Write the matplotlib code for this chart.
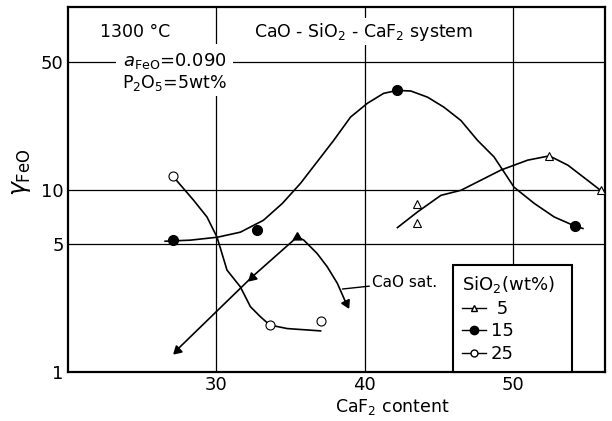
import numpy as np
import matplotlib
matplotlib.use("Agg")
import matplotlib.pyplot as plt
from matplotlib.lines import Line2D

# CaF2 content vs gamma_FeO
# SiO2 = 5 wt% (open triangles)
x5 = [43.56, 43.56, 52.45, 55.9]
y5 = [8.35, 6.54, 15.3, 9.9]
x5_curve = [42.21, 43.56, 45.14, 46.49, 49.19, 50.99, 52.45, 53.70, 55.05, 55.90]
y5_curve = [6.19, 7.54, 9.3, 9.91, 12.8, 14.5, 15.3, 13.6, 11.2, 9.9]

# SiO2 = 15 wt% (filled circles)
x15 = [27.1, 32.75, 42.21, 54.19]
y15 = [5.26, 5.97, 34.96, 6.30]
x15_curve = [26.55, 28.24, 30.07, 31.62, 33.18, 34.46, 35.68, 37.91, 39.05, 40.18,
             41.28, 42.21, 43.11, 44.24, 45.34, 46.49, 47.61, 48.72, 50.07, 51.42,
             52.77, 54.19, 54.71]
y15_curve = [5.21, 5.28, 5.48, 5.84, 6.79, 8.41, 10.83, 18.6, 24.98, 29.7,
             33.7, 34.96, 34.7, 32.1, 28.3, 23.9, 18.6, 15.1, 10.3, 8.41,
             7.08, 6.30, 6.12]

# SiO2 = 25 wt% (open circles)
x25 = [27.09, 33.6, 37.07]
y25 = [11.8, 1.81, 1.90]
x25_curve = [27.09, 28.47, 29.37, 30.05, 30.72, 31.62, 32.30, 32.97, 33.6, 34.78, 37.03]
y25_curve = [11.8, 8.74, 7.08, 5.48, 3.62, 2.93, 2.28, 2.01, 1.81, 1.73, 1.68]

# CaO saturation line (filled arrow heads)
x_cao = [27.34, 32.41, 35.0, 35.45, 35.9, 36.8, 37.48, 38.16, 38.75]
y_cao = [1.32, 3.32, 5.1, 5.5, 5.28, 4.46, 3.77, 3.06, 2.38]
x_cao_pts = [27.34, 32.41, 35.45, 38.75]
y_cao_pts = [1.32, 3.32, 5.5, 2.38]
cao_angles = [133, 133, 0, -154]

xticks = [30, 40, 50]
yticks = [1, 5, 10, 50]

plt.rcParams["font.family"] = "DejaVu Sans"
plt.rcParams["mathtext.fontset"] = "dejavusans"

fig = plt.figure(figsize=(6.12, 4.21), dpi=100)
ax = fig.add_axes([0.111, 0.1164, 0.8776, 0.8666])
ax.set_yscale("log")
ax.set_xlim(20, 56.2)
ax.set_ylim(1, 100)

# grid lines only at the labelled values
for v in xticks:
    ax.axvline(v, color="black", lw=0.9, zorder=0)
for v in yticks[1:]:
    ax.axhline(v, color="black", lw=0.9, zorder=0)

ax.set_xticks(xticks)
ax.set_xticklabels([str(t) for t in xticks])
ax.set_yticks(yticks)
ax.set_yticklabels([str(t) for t in yticks])
ax.yaxis.set_minor_locator(matplotlib.ticker.NullLocator())
ax.tick_params(length=0, labelsize=13, pad=3)
for s in ax.spines.values():
    s.set_linewidth(1.6)

lc = dict(color="black", lw=1.2, zorder=2)
ax.plot(x5_curve, y5_curve, **lc)
ax.plot(x15_curve, y15_curve, **lc)
ax.plot(x25_curve, y25_curve, **lc)
ax.plot(x_cao, y_cao, **lc)

ax.plot(x5, y5, ls="none", marker="^", ms=6, mfc="white", mec="black", mew=0.8, zorder=3)
ax.plot(x15, y15, ls="none", marker="o", ms=7, color="black", zorder=3)
ax.plot(x25, y25, ls="none", marker="o", ms=6.5, mfc="white", mec="black", mew=0.8, zorder=3)
for xa, ya, ang in zip(x_cao_pts, y_cao_pts, cao_angles):
    ax.plot([xa], [ya], ls="none", marker=(3, 0, ang), ms=7, color="black", zorder=3)

ax.annotate("CaO sat.", xy=(38.5, 2.85), xytext=(40.5, 3.1), fontsize=11,
            va="center", ha="left",
            arrowprops=dict(arrowstyle="-", color="black", lw=1.0, shrinkA=0, shrinkB=0))

wb = dict(facecolor="white", edgecolor="none", pad=2)
ax.text(24.5, 73.5, "1300 °C", fontsize=12.5, ha="center", va="center", bbox=wb)
ax.text(39.9, 73.5, "CaO - SiO$_2$ - CaF$_2$ system", fontsize=12.5, ha="center",
        va="center", bbox=wb)
ax.text(27.2, 51, r"$\mathit{a}_{\rm FeO}$=0.090", fontsize=13, ha="center",
        va="center", bbox=dict(facecolor="white", edgecolor="none", pad=5))
ax.text(27.2, 38.2, "P$_2$O$_5$=5wt%", fontsize=12.5, ha="center", va="center", bbox=wb)

ax.set_xlabel("CaF$_2$ content", fontsize=12.5)
ax.xaxis.set_label_coords(0.605, -0.068)
fig.text(0.035, 0.59, r"$\gamma_{\rm FeO}$", fontsize=17, rotation=90,
         ha="center", va="center")

handles = [
    Line2D([], [], color="black", lw=1.0, marker="^", ms=5, mfc="white", mec="black"),
    Line2D([], [], color="black", lw=1.0, marker="o", ms=6),
    Line2D([], [], color="black", lw=1.0, marker="o", ms=5, mfc="white", mec="black"),
]
labels = [" 5", "15", "25"]
leg = ax.legend(handles, labels, title="SiO$_2$(wt%)", loc="lower left",
                bbox_to_anchor=(0.717, 0.0, 0.2215, 0.359), mode="expand",
                borderaxespad=0, fontsize=13, title_fontsize=13, handlelength=1.3,
                handletextpad=0.3, labelspacing=0.25, fancybox=False,
                framealpha=1, edgecolor="black", borderpad=0.5)
leg.get_frame().set_linewidth(1.5)
leg._legend_box.align = "left"

fig.savefig("out.png", dpi=100)
